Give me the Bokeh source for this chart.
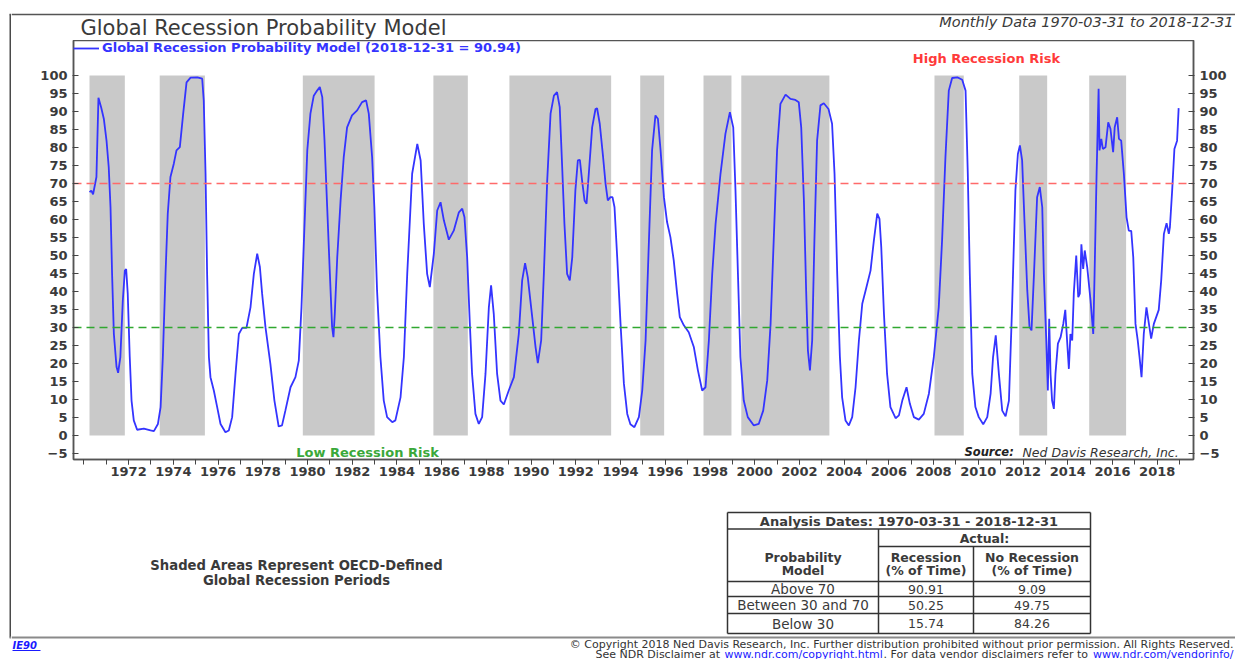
from bokeh.plotting import figure
from bokeh.models import (Range1d, LinearAxis, FixedTicker, Legend, LegendItem,
                          Label, Span, BasicTickFormatter)
from bokeh.layouts import row, column
from bokeh.embed import file_html
from bokeh.resources import INLINE
from bokeh.core.properties import value

# ---------------- data ----------------
TITLE = "Global Recession Probability Model"
SUBTITLE = "Monthly Data 1970-03-31 to 2018-12-31"
SERIES_NAME = "Global Recession Probability Model (2018-12-31 = 90.94)"

dates = [
    1970.25, 1970.33, 1970.41, 1970.56, 1970.65, 1970.77, 1970.89, 1971.01, 1971.11, 1971.19,
    1971.26, 1971.34, 1971.46, 1971.53, 1971.63, 1971.74, 1971.83, 1971.89, 1971.96, 1972.05,
    1972.13, 1972.23, 1972.38, 1972.68, 1972.98, 1973.13, 1973.31, 1973.43, 1973.53, 1973.65,
    1973.75, 1973.87, 1974.02, 1974.14, 1974.29, 1974.44, 1974.59, 1974.77, 1975.07, 1975.29,
    1975.36, 1975.44, 1975.51, 1975.59, 1975.66, 1975.81, 1975.96, 1976.11, 1976.33, 1976.48,
    1976.63, 1976.78, 1976.93, 1977.08, 1977.27, 1977.45, 1977.60, 1977.75, 1977.87, 1977.97,
    1978.12, 1978.34, 1978.52, 1978.71, 1978.86, 1979.01, 1979.24, 1979.46, 1979.61, 1979.73,
    1979.84, 1979.99, 1980.13, 1980.28, 1980.43, 1980.55, 1980.66, 1980.76, 1980.88, 1981.00,
    1981.10, 1981.16, 1981.22, 1981.33, 1981.48, 1981.62, 1981.77, 1981.99, 1982.22, 1982.44,
    1982.62, 1982.74, 1982.89, 1982.99, 1983.11, 1983.26, 1983.41, 1983.56, 1983.79, 1983.93,
    1984.16, 1984.31, 1984.46, 1984.68, 1984.91, 1985.06, 1985.20, 1985.35, 1985.47, 1985.65,
    1985.80, 1985.95, 1986.10, 1986.32, 1986.54, 1986.77, 1986.92, 1987.02, 1987.14, 1987.26,
    1987.36, 1987.51, 1987.66, 1987.81, 1987.96, 1988.11, 1988.21, 1988.33, 1988.48, 1988.63,
    1988.78, 1989.00, 1989.23, 1989.45, 1989.60, 1989.73, 1989.85, 1990.05, 1990.20, 1990.30,
    1990.45, 1990.57, 1990.72, 1990.87, 1991.02, 1991.16, 1991.28, 1991.39, 1991.49, 1991.61,
    1991.73, 1991.84, 1991.98, 1992.09, 1992.18, 1992.28, 1992.39, 1992.48, 1992.58, 1992.73,
    1992.88, 1992.95, 1993.07, 1993.22, 1993.33, 1993.43, 1993.55, 1993.64, 1993.73, 1993.85,
    1994.00, 1994.15, 1994.30, 1994.44, 1994.62, 1994.82, 1994.97, 1995.12, 1995.27, 1995.41,
    1995.56, 1995.67, 1995.79, 1995.94, 1996.08, 1996.23, 1996.38, 1996.53, 1996.65, 1996.83,
    1997.05, 1997.28, 1997.46, 1997.65, 1997.80, 1997.95, 1998.10, 1998.25, 1998.47, 1998.69,
    1998.89, 1999.04, 1999.14, 1999.25, 1999.36, 1999.51, 1999.69, 1999.96, 2000.18, 2000.38,
    2000.56, 2000.71, 2000.85, 2001.00, 2001.15, 2001.38, 2001.60, 2001.82, 2001.97, 2002.08,
    2002.20, 2002.30, 2002.38, 2002.47, 2002.57, 2002.67, 2002.79, 2002.94, 2003.09, 2003.30,
    2003.46, 2003.57, 2003.69, 2003.81, 2003.91, 2004.06, 2004.21, 2004.36, 2004.51, 2004.66,
    2004.81, 2004.96, 2005.18, 2005.33, 2005.48, 2005.58, 2005.66, 2005.78, 2005.92, 2006.07,
    2006.30, 2006.45, 2006.60, 2006.79, 2006.94, 2007.12, 2007.34, 2007.56, 2007.79, 2008.01,
    2008.23, 2008.38, 2008.53, 2008.68, 2008.83, 2009.06, 2009.28, 2009.43, 2009.53, 2009.62,
    2009.73, 2009.87, 2010.02, 2010.22, 2010.40, 2010.55, 2010.66, 2010.78, 2010.92, 2011.07,
    2011.22, 2011.37, 2011.51, 2011.66, 2011.77, 2011.86, 2011.96, 2012.07, 2012.19, 2012.29,
    2012.38, 2012.49, 2012.63, 2012.75, 2012.86, 2012.93, 2013.04, 2013.11, 2013.17, 2013.23,
    2013.30, 2013.38, 2013.45, 2013.56, 2013.68, 2013.80, 2013.89, 2013.97, 2014.05, 2014.12,
    2014.20, 2014.27, 2014.38, 2014.47, 2014.54, 2014.61, 2014.69, 2014.76, 2014.87, 2015.02,
    2015.14, 2015.20, 2015.29, 2015.38, 2015.42, 2015.50, 2015.57, 2015.69, 2015.81, 2015.91,
    2016.03, 2016.10, 2016.21, 2016.29, 2016.39, 2016.51, 2016.63, 2016.73, 2016.84, 2016.93,
    2017.03, 2017.13, 2017.21, 2017.30, 2017.40, 2017.52, 2017.63, 2017.73, 2017.85, 2018.07,
    2018.18, 2018.30, 2018.42, 2018.52, 2018.57, 2018.67, 2018.77, 2018.89, 2018.96,
]
probability = [
    67.6, 68.0, 67.0, 71.8, 93.8, 91.2, 88.0, 82.0, 74.5, 63.4,
    44.9, 28.2, 19.0, 17.4, 21.8, 37.5, 45.8, 46.2, 39.4, 21.8,
    9.7, 4.2, 1.6, 1.9, 1.4, 1.2, 3.2, 7.9, 21.8, 44.9,
    61.6, 71.8, 75.5, 79.2, 80.1, 89.4, 98.1, 99.4, 99.5, 99.1,
    93.0, 72.7, 44.9, 21.8, 16.2, 12.5, 7.9, 3.2, 0.9, 1.4,
    5.1, 17.1, 28.2, 29.9, 29.9, 35.6, 44.9, 50.5, 46.8, 39.4,
    30.1, 19.9, 9.7, 2.5, 2.8, 6.9, 13.4, 16.2, 20.8, 35.6,
    54.2, 79.2, 89.4, 94.4, 95.8, 96.8, 94.0, 82.0, 63.4, 44.9,
    30.1, 27.3, 33.8, 49.5, 65.3, 77.3, 85.6, 88.9, 90.3, 92.6,
    93.1, 89.4, 77.3, 63.4, 40.3, 21.8, 9.7, 5.1, 3.7, 4.2,
    10.6, 21.8, 44.9, 72.7, 81.0, 76.4, 58.8, 44.9, 41.2, 50.5,
    62.5, 64.8, 59.7, 54.4, 56.9, 62.0, 63.0, 60.6, 49.5, 31.0,
    17.1, 6.0, 3.2, 5.1, 17.1, 35.6, 41.7, 33.8, 17.1, 9.7,
    8.6, 12.5, 16.2, 28.2, 43.1, 47.9, 44.0, 32.9, 24.5, 20.1,
    26.4, 44.9, 70.8, 89.4, 94.4, 95.4, 91.2, 74.5, 58.8, 44.9,
    43.1, 49.5, 68.1, 76.4, 76.6, 70.8, 65.3, 64.4, 72.7, 85.6,
    90.7, 90.9, 86.6, 77.3, 69.9, 65.3, 66.2, 66.2, 63.4, 49.5,
    31.0, 14.4, 6.0, 3.1, 2.3, 5.1, 12.5, 26.4, 54.2, 79.2,
    88.9, 88.0, 79.2, 66.2, 59.3, 55.1, 48.6, 39.4, 32.9, 30.6,
    28.7, 24.5, 18.1, 12.5, 13.4, 26.4, 44.9, 58.8, 72.7, 83.8,
    89.8, 85.6, 68.1, 44.9, 21.8, 9.7, 5.1, 2.8, 3.2, 6.9,
    15.3, 31.0, 54.2, 79.2, 92.1, 94.7, 93.5, 93.2, 92.6, 85.6,
    65.3, 40.3, 23.6, 18.1, 26.4, 54.2, 81.9, 91.7, 92.3, 90.7,
    86.6, 72.7, 44.9, 21.8, 10.6, 4.2, 2.8, 5.1, 13.4, 26.4,
    36.6, 40.3, 45.8, 54.2, 61.6, 60.2, 52.3, 33.8, 17.1, 7.9,
    4.8, 5.6, 9.7, 13.4, 8.8, 5.1, 4.4, 6.0, 11.6, 21.8,
    35.6, 54.2, 77.3, 95.8, 99.3, 99.5, 98.8, 95.8, 72.7, 44.9,
    17.1, 7.9, 5.1, 3.1, 5.1, 11.6, 21.8, 27.8, 17.1, 6.9,
    5.3, 9.7, 35.6, 68.1, 78.2, 80.6, 76.4, 58.8, 40.3, 30.1,
    29.2, 44.9, 66.2, 69.0, 63.4, 44.9, 26.4, 12.5, 32.4, 17.1,
    9.7, 7.4, 17.1, 25.5, 27.3, 31.0, 34.9, 26.4, 18.5, 28.2,
    26.4, 39.4, 50.0, 38.4, 39.4, 53.1, 46.3, 51.4, 46.8, 37.5,
    28.2, 44.9, 72.7, 96.3, 79.2, 82.4, 79.6, 80.1, 87.0, 85.2,
    78.7, 85.6, 88.4, 82.4, 81.9, 72.7, 60.6, 56.9, 56.8, 49.5,
    31.0, 26.4, 21.8, 16.2, 28.2, 35.6, 31.0, 26.9, 31.0, 34.9,
    43.1, 56.0, 59.0, 56.0, 57.9, 68.1, 79.6, 81.9, 90.94,
]

# OECD-defined global recession periods (shaded)
recession_start = [1970.25, 1973.39, 1979.79, 1985.63, 1989.03, 1994.88,
                   1997.71, 1999.40, 2008.04, 2011.83, 2014.96]
recession_end = [1971.83, 1975.41, 1983.00, 1987.17, 1993.58, 1995.95,
                 1998.96, 2003.34, 2009.35, 2013.08, 2016.61]

high_risk_level = 70
low_risk_level = 30
y_ticks = list(range(-5, 101, 5))
x_label_years = list(range(1972, 2019, 2))
x_minor_years = list(range(1970, 2020))

table_title = "Analysis Dates: 1970-03-31 - 2018-12-31"
table_rows = ["Above 70", "Between 30 and 70", "Below 30"]
recession_pct = ["90.91", "50.25", "15.74"]
no_recession_pct = ["9.09", "49.75", "84.26"]

# ---------------- styling ----------------
FONT = "DejaVu Sans"
DARK = "#3a3a3a"
FRAME = "#555555"
BLUE = "#3434ff"
W, H = 1235, 659          # whole page content
STRIP_W = 11
COL_W = W - STRIP_W
HEAD_H, CHART_H = 40, 447
BOT_H = H - HEAD_H - CHART_H

X0, X1 = 1969.5344, 2019.624
Y0, Y1 = -6.667, 109.72


def cx(px):  # picture pixel -> chart x (for text placement)
    return X0 + (px - 73) / 22.36


def cy(py):  # picture pixel -> chart y (for text placement)
    return (435 - py) / 3.6


def panel(width, height, x0, x1, ytop, ybot):
    f = figure(width=width, height=height, x_range=Range1d(x0, x1),
               y_range=Range1d(ybot, ytop), x_axis_location=None,
               y_axis_location=None, toolbar_location=None,
               output_backend="svg", min_border=0, title=None)
    f.grid.visible = False
    f.outline_line_color = None
    f.background_fill_color = "white"
    f.border_fill_color = "white"
    f.frame_align = False
    return f


# ---------------- left strip (outer border) ----------------
strip = panel(STRIP_W, H, 0, STRIP_W, 0, H)
strip.segment(x0=[10], y0=[14], x1=[10], y1=[637], line_color="#4a4a4a", line_width=2)
strip.segment(x0=[9], y0=[14], x1=[11], y1=[14], line_color=FRAME, line_width=1.5)
strip.segment(x0=[9], y0=[637], x1=[11], y1=[637], line_color="#8a8a8a", line_width=2)

# ---------------- header ----------------
header = panel(COL_W, HEAD_H, STRIP_W, W, 0, HEAD_H)
header.segment(x0=[STRIP_W], y0=[14], x1=[W], y1=[14], line_color=FRAME, line_width=1.5)
header.text(x=[80], y=[27.5], text=[TITLE], text_font=value(FONT), text_font_size="21px",
            text_color=DARK, text_baseline="middle", text_align="left")
header.text(x=[1233], y=[21.5], text=[SUBTITLE], text_font=value(FONT), text_font_size="14.5px",
            text_font_style="italic", text_color=DARK, text_baseline="middle", text_align="right")

# ---------------- chart ----------------
p = figure(width=COL_W, height=CHART_H, x_range=Range1d(X0, X1), y_range=Range1d(Y0, Y1),
           title=None, toolbar_location=None, output_backend="svg",
           min_border_left=73 - STRIP_W, min_border_right=W - 1193,
           min_border_top=0, min_border_bottom=28)
p.frame_align = False
p.grid.visible = False
p.outline_line_color = FRAME
p.outline_line_width = 1.5
p.background_fill_color = "white"
p.border_fill_color = "white"

p.quad(left=recession_start, right=recession_end, bottom=0, top=100,
       fill_color="#c9c9c9", line_color=None)
p.add_layout(Span(location=high_risk_level, dimension="width", line_color="#ff6a6a",
                  line_dash="8 5", line_width=1.3, level="glyph"))
p.add_layout(Span(location=low_risk_level, dimension="width", line_color="#30a830",
                  line_dash="8 5", line_width=1.3, level="glyph"))
r = p.line(dates, probability, line_color=BLUE, line_width=1.8)

xaxis = p.xaxis[0]
xaxis.ticker = FixedTicker(ticks=x_label_years, minor_ticks=x_minor_years)
xaxis.formatter = BasicTickFormatter(use_scientific=False)
xaxis.major_tick_in = 0
xaxis.major_tick_out = 5
xaxis.minor_tick_in = 0
xaxis.minor_tick_out = 5
xaxis.major_label_standoff = 2

yl = p.yaxis[0]
yl.ticker = FixedTicker(ticks=y_ticks)
yr = LinearAxis(ticker=FixedTicker(ticks=y_ticks))
p.add_layout(yr, "right")
for ax in (yl, yr):
    ax.major_tick_in = 5
    ax.major_tick_out = 1
    ax.major_label_standoff = 5

for ax in (xaxis, yl, yr):
    ax.axis_line_color = FRAME
    ax.axis_line_width = 1.5
    ax.major_tick_line_color = "#444444"
    ax.minor_tick_line_color = "#444444" if ax is xaxis else None
    ax.major_label_text_font = FONT
    ax.major_label_text_font_style = "bold"
    ax.major_label_text_font_size = "13px"
    ax.major_label_text_color = DARK

legend = Legend(items=[LegendItem(label=SERIES_NAME, renderers=[r])], location="top_left",
                margin=0, padding=2, glyph_width=26, glyph_height=14, label_height=14,
                label_standoff=3, border_line_color=None, background_fill_alpha=0,
                label_text_font=FONT, label_text_font_style="bold",
                label_text_font_size="13px", label_text_color=BLUE)
p.add_layout(legend)

p.add_layout(Label(x=cx(986), y=cy(58), text="High Recession Risk", text_align="center",
                   text_baseline="middle", text_color="#ff3a3a", text_font=FONT,
                   text_font_style="bold", text_font_size="13px"))
p.add_layout(Label(x=cx(367), y=cy(452), text="Low Recession Risk", text_align="center",
                   text_baseline="middle", text_color="#3aa83a", text_font=FONT,
                   text_font_style="bold", text_font_size="13px"))
p.add_layout(Label(x=cx(964), y=cy(452), text="Source:", text_align="left",
                   text_baseline="middle", text_color="#222222", text_font=FONT,
                   text_font_style="bold italic", text_font_size="11.5px"))
p.add_layout(Label(x=cx(1022), y=cy(452), text="Ned Davis Research, Inc.", text_align="left",
                   text_baseline="middle", text_color="#333333", text_font=FONT,
                   text_font_style="italic", text_font_size="12.5px"))

# ---------------- bottom panel (notes, table, footer) ----------------
y_top_bot = HEAD_H + CHART_H
bottom = panel(COL_W, BOT_H, STRIP_W, W, y_top_bot, H)
bottom.segment(x0=[STRIP_W], y0=[637], x1=[W], y1=[637], line_color="#8a8a8a", line_width=2)

bottom.text(x=[296, 296], y=[565, 580],
            text=["Shaded Areas Represent OECD-Defined", "Global Recession Periods"],
            text_font=value(FONT), text_font_style="bold", text_font_size="13.2px",
            text_color=DARK, text_align="center", text_baseline="middle")

# table grid
tL, tR, tT, tB = 727, 1090, 512, 633
c1, c2 = 878, 973
hy = [512, 528.5, 581, 596, 613, 633]
bottom.segment(x0=[tL] * len(hy), y0=hy, x1=[tR] * len(hy), y1=hy, line_color="#333333", line_width=1.5)
bottom.segment(x0=[c1], y0=[546], x1=[tR], y1=[546], line_color="#333333", line_width=1.5)
bottom.segment(x0=[tL, tR, c1, c2], y0=[tT, tT, 528.5, 546], x1=[tL, tR, c1, c2],
               y1=[tB, tB, tB, tB], line_color="#333333", line_width=1.5)

col1_c = (tL + c1) / 2
col2_c = (c1 + c2) / 2
col3_c = (c2 + tR) / 2
bold_kw = dict(text_font=value(FONT), text_font_style="bold",
               text_color=DARK, text_align="center", text_baseline="middle")
bottom.text(x=[(tL + tR) / 2], y=[520.5], text=[table_title], text_font_size="13px", **bold_kw)
bottom.text(x=[(c1 + tR) / 2], y=[537.5], text=["Actual:"], text_font_size="12.5px", **bold_kw)
bottom.text(x=[col1_c, col1_c, col2_c, col2_c, col3_c, col3_c],
            y=[556.5, 569.5, 556.5, 569.5, 556.5, 569.5],
            text=["Probability", "Model", "Recession", "(% of Time)", "No Recession", "(% of Time)"],
            text_font_size="12.5px", **bold_kw)
row_y = [588.5, 604.5, 623]
reg_kw = dict(text_font=value(FONT), text_color=DARK,
              text_align="center", text_baseline="middle")
bottom.text(x=[col1_c] * 3, y=row_y, text=table_rows, text_font_size="13.5px", **reg_kw)
bottom.text(x=[col2_c] * 3, y=row_y, text=recession_pct, text_font_size="12.5px", **reg_kw)
bottom.text(x=[col3_c] * 3, y=row_y, text=no_recession_pct, text_font_size="12.5px", **reg_kw)

# footer
bottom.text(x=[12], y=[645], text=["IE90"], text_font=value(FONT), text_font_style="bold italic",
            text_font_size="10px", text_color="#1a1aff", text_align="left", text_baseline="middle")
bottom.segment(x0=[12], y0=[650], x1=[40], y1=[650], line_color="#1a1aff", line_width=1)
foot_kw = dict(text_font=value(FONT), text_font_size="11px", text_baseline="middle")
bottom.text(x=[1233], y=[644],
            text=["\u00a9 Copyright 2018 Ned Davis Research, Inc. Further distribution prohibited "
                  "without prior permission. All Rights Reserved."],
            text_color="#333333", text_align="right", **foot_kw)
bottom.text(x=[595, 883], y=[653.5, 653.5],
            text=["See NDR Disclaimer at", ". For data vendor disclaimers refer to"],
            text_color="#333333", text_align="left", **foot_kw)
bottom.text(x=[724], y=[653.5], text=["www.ndr.com/copyright.html"],
            text_color="#1a1aff", text_align="left", **foot_kw)
bottom.text(x=[1233], y=[653.5], text=["www.ndr.com/vendorinfo/"],
            text_color="#1a1aff", text_align="right", **foot_kw)

layout = row(strip, column(header, p, bottom, spacing=0), spacing=0)

open("out.html", "w").write(file_html(layout, INLINE))
